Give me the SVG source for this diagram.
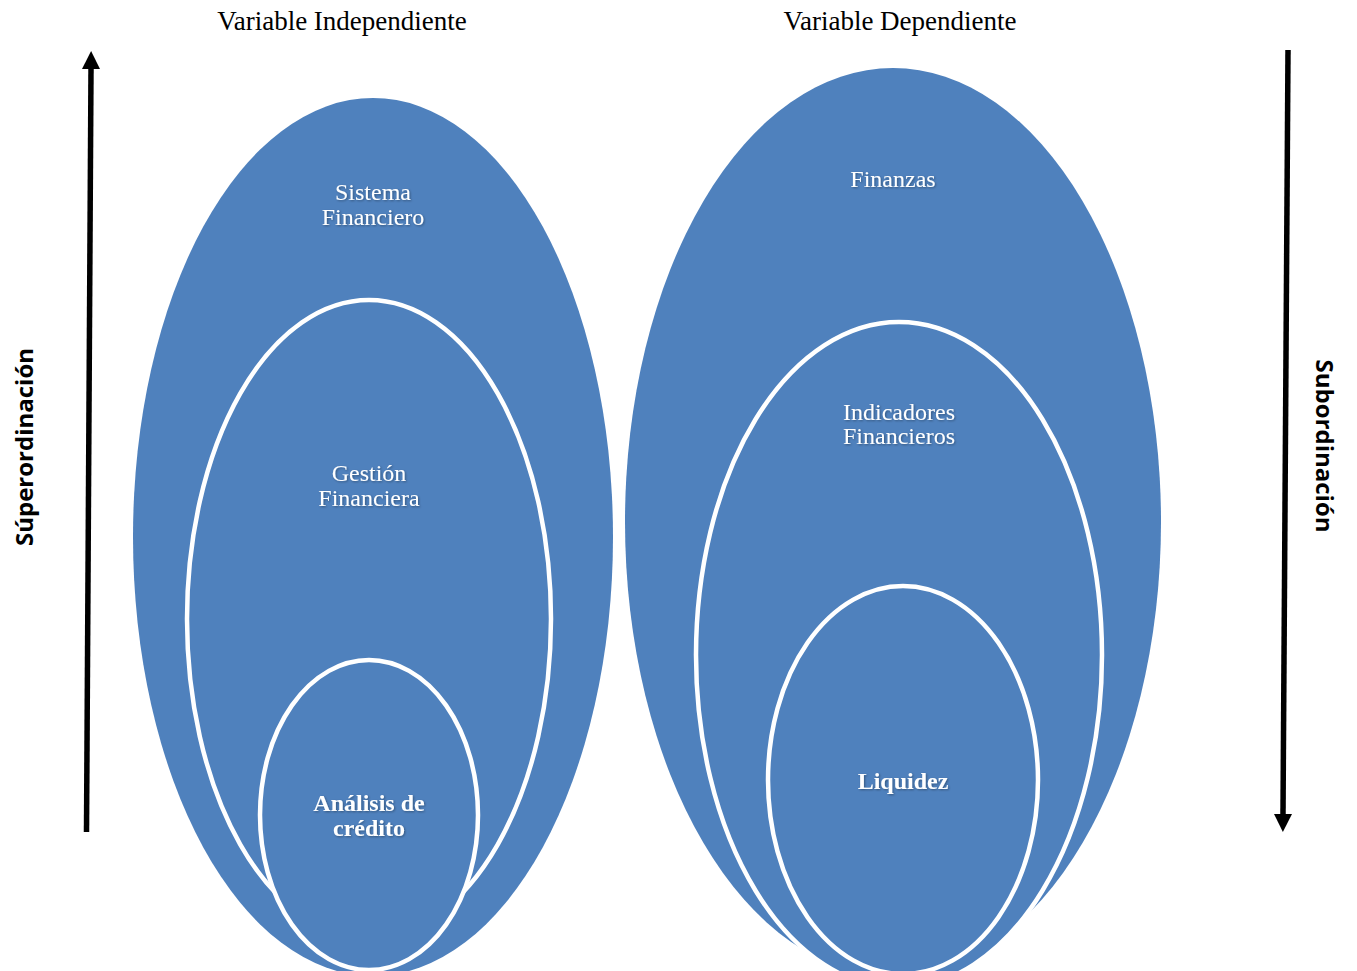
<svg xmlns="http://www.w3.org/2000/svg" width="1357" height="971" viewBox="0 0 1357 971">
  <style>
    .blob { fill: #4F81BD; }
    .ring { fill: #4F81BD; stroke: #FFFFFF; stroke-width: 4.5; }
    .lbl { font-family: "Liberation Serif", serif; font-size: 24px; fill: #FFFFFF; text-anchor: middle; filter: url(#shadow); }
    .lblb { font-family: "Liberation Serif", serif; font-size: 24px; font-weight: bold; fill: #FFFFFF; text-anchor: middle; filter: url(#shadow); }
    .head { font-family: "Liberation Serif", serif; font-size: 27px; fill: #000000; text-anchor: middle; }
    .side { font-family: "Open Sans", "Liberation Sans", sans-serif; font-size: 24px; font-weight: bold; fill: #000000; text-anchor: middle; }
    .axis { stroke: #000000; stroke-width: 5.5; fill: none; }
  </style>
  <defs>
    <filter id="shadow" x="-10%" y="-20%" width="120%" height="140%">
      <feDropShadow dx="1" dy="1" stdDeviation="0.8" flood-color="#000000" flood-opacity="0.35"/>
    </filter>
    <marker id="head" viewBox="0 0 18 18" refX="0" refY="9" markerWidth="18" markerHeight="18" markerUnits="userSpaceOnUse" orient="auto">
      <path d="M0,0 L18,9 L0,18 Z" fill="#000000"/>
    </marker>
  </defs>

  <rect width="1357" height="971" fill="#FFFFFF"/>

  <text class="head" x="342" y="30">Variable Independiente</text>
  <text class="head" x="900" y="30">Variable Dependiente</text>

  <!-- Independent variable nest -->
  <g id="sistema-financiero">
    <ellipse class="blob" cx="373" cy="537" rx="240" ry="439"/>
    <text class="lbl" x="373" y="200">Sistema</text>
    <text class="lbl" x="373" y="225">Financiero</text>
  </g>
  <g id="gestion-financiera">
    <ellipse class="ring" cx="369" cy="619" rx="182" ry="319"/>
    <text class="lbl" x="369" y="481">Gestión</text>
    <text class="lbl" x="369" y="506">Financiera</text>
  </g>
  <g id="analisis-credito">
    <ellipse class="ring" cx="369" cy="815" rx="109" ry="155"/>
    <text class="lblb" x="369" y="811">Análisis de</text>
    <text class="lblb" x="369" y="836">crédito</text>
  </g>

  <!-- Dependent variable nest -->
  <g id="finanzas">
    <ellipse class="blob" cx="893" cy="522" rx="268" ry="454"/>
    <text class="lbl" x="893" y="187">Finanzas</text>
  </g>
  <g id="indicadores-financieros">
    <ellipse class="ring" cx="899" cy="655" rx="203" ry="333"/>
    <text class="lbl" x="899" y="420">Indicadores</text>
    <text class="lbl" x="899" y="444">Financieros</text>
  </g>
  <g id="liquidez">
    <ellipse class="ring" cx="903" cy="780" rx="135" ry="194"/>
    <text class="lblb" x="903" y="789">Liquidez</text>
  </g>

  <!-- Hierarchy axes -->
  <g id="connectors">
    <line class="axis" x1="86.5" y1="832" x2="91" y2="69" marker-end="url(#head)"/>
    <line class="axis" x1="1288" y1="50" x2="1283" y2="814" marker-end="url(#head)"/>
  </g>

  <g id="side-labels">
    <text class="side" transform="translate(33,447) rotate(-90)">Súperordinación</text>
    <text class="side" transform="translate(1316,446) rotate(90)">Subordinación</text>
  </g>
</svg>
